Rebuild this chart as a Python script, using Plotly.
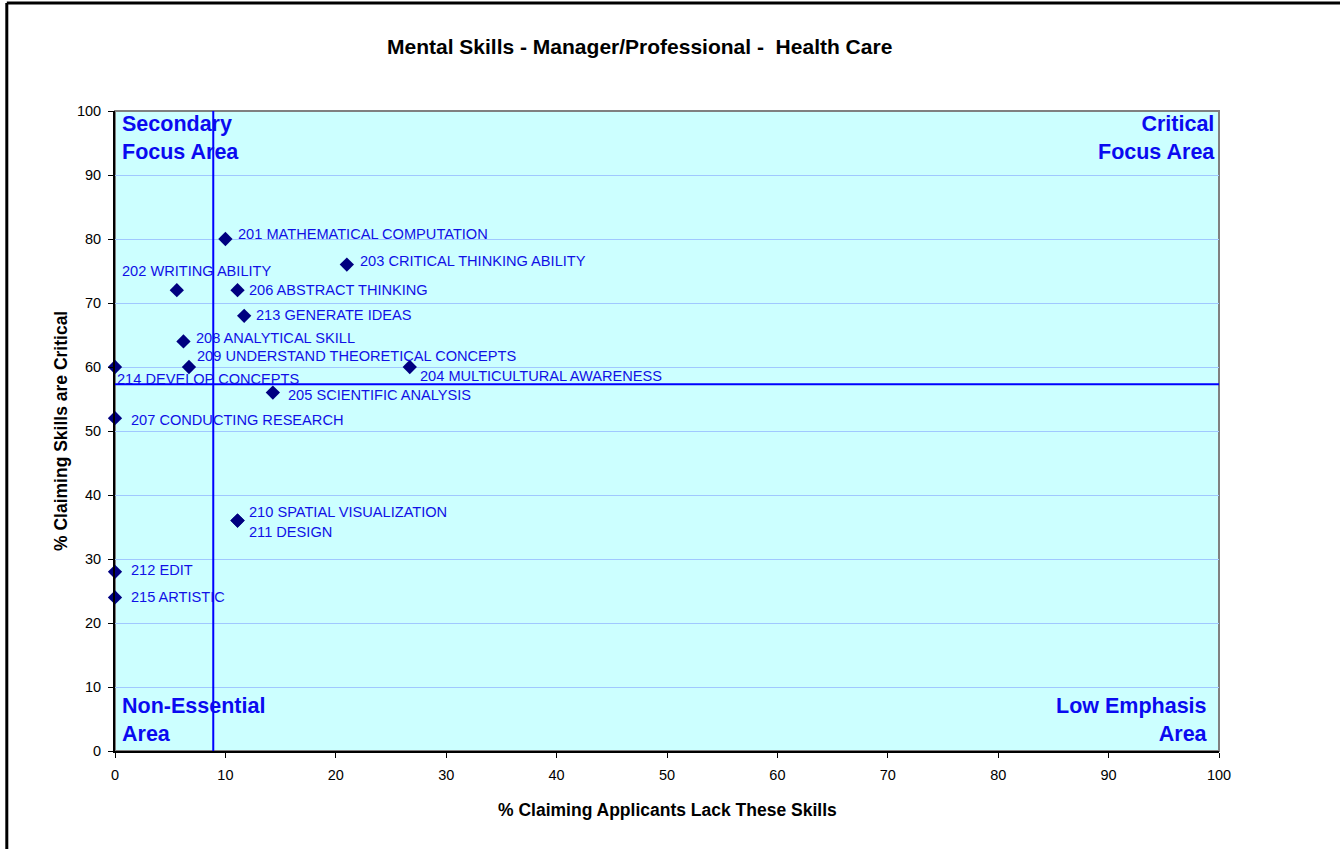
import plotly.graph_objects as go

# ---- data ----
skill_labels = [
    "201 MATHEMATICAL COMPUTATION",
    "202 WRITING ABILITY",
    "203 CRITICAL THINKING ABILITY",
    "204 MULTICULTURAL AWARENESS",
    "205 SCIENTIFIC ANALYSIS",
    "206 ABSTRACT THINKING",
    "207 CONDUCTING RESEARCH",
    "208 ANALYTICAL SKILL",
    "209 UNDERSTAND THEORETICAL CONCEPTS",
    "210 SPATIAL VISUALIZATION",
    "211 DESIGN",
    "212 EDIT",
    "213 GENERATE IDEAS",
    "214 DEVELOP CONCEPTS",
    "215 ARTISTIC",
]
pct_lacking = [10.0, 5.6, 21.0, 26.7, 14.3, 11.1, 0.0, 6.2, 6.7, 11.1, 11.1, 0.0, 11.7, 0.0, 0.0]
pct_critical = [80, 72, 76, 60, 56, 72, 52, 64, 60, 36, 36, 28, 68, 60, 24]

x_divider = 8.9   # vertical reference line
y_divider = 57.3  # horizontal reference line

x_ticks = list(range(0, 101, 10))
y_ticks = list(range(0, 101, 10))

title_text = "Mental Skills - Manager/Professional -  Health Care"
x_title = "% Claiming Applicants Lack These Skills"
y_title = "% Claiming Skills are Critical"

quadrants = [
    ("Secondary<br>Focus Area", "tl"),
    ("Critical<br>Focus Area", "tr"),
    ("Non-Essential<br>Area", "bl"),
    ("Low Emphasis<br>Area", "br"),
]

# ---- label placement (pixel offsets from the marker: dx right, dy down) ----
label_offsets = {
    "201": (12, -5), "202": (-56, -19), "203": (12, -4), "204": (9, 9),
    "205": (14, 2), "206": (10, 0), "207": (15, 2), "208": (12, -3),
    "209": (7, -11), "210": (10, -9), "211": (10, 11), "212": (15, -2),
    "213": (11, -1), "214": (1, 12), "215": (15, 0),
}

FONT = "Liberation Sans, Arial, sans-serif"
LABEL_BLUE = "#1010E6"
QUAD_BLUE = "#0A0AF0"

fig = go.Figure()
fig.add_trace(go.Scatter(
    x=pct_lacking, y=pct_critical, mode="markers",
    marker=dict(symbol="diamond", size=11, color="#000080"),
    hoverinfo="text", text=skill_labels, showlegend=False, cliponaxis=False,
))

annotations = []
for lab, xv, yv in zip(skill_labels, pct_lacking, pct_critical):
    dx, dy = label_offsets[lab[:3]]
    annotations.append(dict(
        x=xv, y=yv, xref="x", yref="y", text=lab, showarrow=False,
        xanchor="left", yanchor="middle", xshift=dx - 1, yshift=-dy,
        font=dict(family=FONT, size=14.6, color=LABEL_BLUE),
    ))

for txt, pos in quadrants:
    a = dict(xref="paper", yref="paper", showarrow=False,
             font=dict(family=FONT, size=21.5, color=QUAD_BLUE))
    if pos == "tl":
        a.update(x=0, y=1, xanchor="left", yanchor="top", align="left", xshift=5, yshift=1)
    elif pos == "tr":
        a.update(x=1, y=1, xanchor="right", yanchor="top", align="right", xshift=-2, yshift=1)
    elif pos == "bl":
        a.update(x=0, y=0, xanchor="left", yanchor="bottom", align="left", xshift=5, yshift=3)
    else:
        a.update(x=1, y=0, xanchor="right", yanchor="bottom", align="right", xshift=-9, yshift=3)
    a["text"] = "<b>" + txt.replace("<br>", "</b><br><b>") + "</b>"
    annotations.append(a)

# title & axis titles
annotations.append(dict(text="<b>" + title_text.replace("  ", "&nbsp; ") + "</b>",
                        xref="paper", yref="paper", x=(639 - 115) / 1104, y=(751 - 47) / 640,
                        xanchor="center", yanchor="middle", showarrow=False,
                        font=dict(family=FONT, size=21, color="black")))
annotations.append(dict(text="<b>" + x_title + "</b>", xref="paper", yref="paper",
                        x=0.5, y=(751 - 810) / 640, xanchor="center", yanchor="middle",
                        showarrow=False, font=dict(family=FONT, size=17.5, color="black")))
annotations.append(dict(text="<b>" + y_title + "</b>", xref="paper", yref="paper",
                        x=(61 - 115) / 1104, y=0.5, xanchor="center", yanchor="middle",
                        textangle=-90, showarrow=False,
                        font=dict(family=FONT, size=17.5, color="black")))

shapes = [
    # plot-area frame (gray)
    dict(type="rect", xref="paper", yref="paper", x0=0, x1=1, y0=0, y1=1,
         line=dict(color="#808080", width=2), layer="below"),
    # reference lines
    dict(type="line", xref="x", yref="paper", x0=x_divider, x1=x_divider, y0=0, y1=1,
         line=dict(color="#0000FF", width=2)),
    dict(type="line", xref="paper", yref="y", x0=0, x1=1, y0=y_divider, y1=y_divider,
         line=dict(color="#0000FF", width=2)),
    # outer page border (left & top)
    dict(type="line", xref="paper", yref="paper",
         x0=(6.8 - 115) / 1104, x1=(6.8 - 115) / 1104, y0=(751 - 860) / 640, y1=(751 - 3) / 640,
         line=dict(color="black", width=3)),
    dict(type="line", xref="paper", yref="paper",
         x0=(6.8 - 115) / 1104, x1=(1345 - 115) / 1104, y0=(751 - 3) / 640, y1=(751 - 3) / 640,
         line=dict(color="black", width=3)),
]

fig.update_layout(
    width=1340, height=849,
    margin=dict(l=115, r=121, t=111, b=98),
    plot_bgcolor="#CCFFFF", paper_bgcolor="white",
    font=dict(family=FONT, size=13, color="black"),
    annotations=annotations, shapes=shapes,
    xaxis=dict(range=[0, 100], tickvals=x_ticks, ticks="outside", ticklen=5,
               tickcolor="black", showline=True, linecolor="black", linewidth=2,
               showgrid=False, zeroline=False, fixedrange=True, ticklabelstandoff=5,
               tickfont=dict(family=FONT, size=14.5, color="black")),
    yaxis=dict(range=[0, 100], tickvals=y_ticks, ticks="outside", ticklen=5,
               tickcolor="black", showline=True, linecolor="black", linewidth=2,
               showgrid=True, gridcolor="#A0C8FF", gridwidth=1, zeroline=False,
               fixedrange=True, ticklabelstandoff=4,
               tickfont=dict(family=FONT, size=14.5, color="black")),
)

fig.write_html(
    "out.html",
    config={"displayModeBar": False},
    post_script="document.body.style.margin='0';document.body.style.overflow='hidden';",
)
